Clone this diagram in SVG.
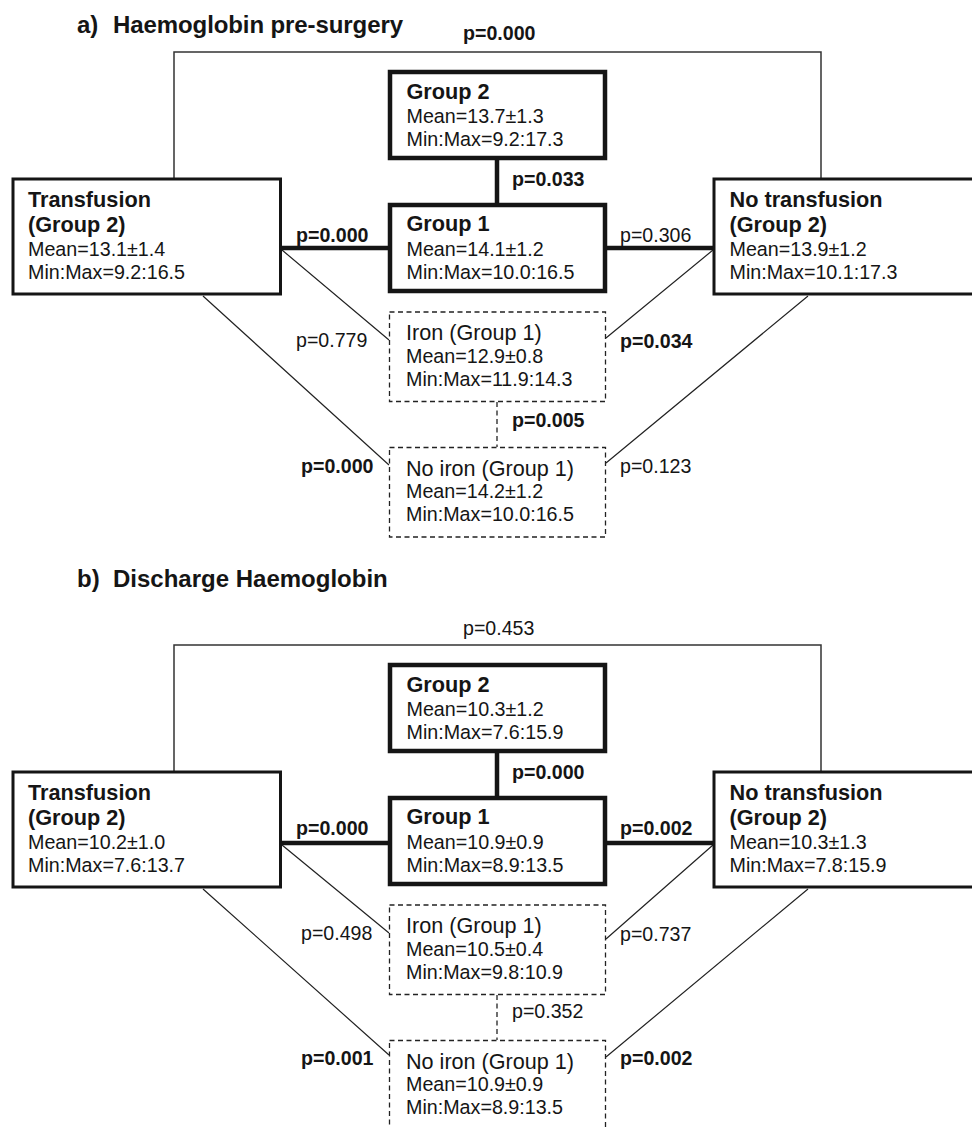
<svg xmlns="http://www.w3.org/2000/svg" width="972" height="1128" viewBox="0 0 972 1128">
<style>
text{font-family:"Liberation Sans",Arial,Helvetica,sans-serif;fill:#151515}
.ttl{font-size:24px;font-weight:bold}
.hd{font-size:21.7px;font-weight:bold}
.hr{font-size:21.6px}
.tx{font-size:19.7px}
.pb{font-size:19.6px;font-weight:bold}
.pr{font-size:19.6px}
.thick{fill:#fff;stroke:#151515;stroke-width:4.5}
.mid{fill:#fff;stroke:#151515;stroke-width:3}
.dash{fill:#fff;stroke:#222;stroke-width:1.3;stroke-dasharray:5 3.5}
.cthick{fill:none;stroke:#151515;stroke-width:4.5}
.cthin{fill:none;stroke:#222;stroke-width:1.2}
.cbr{fill:none;stroke:#333;stroke-width:1.5}
.cdash{fill:none;stroke:#222;stroke-width:1.3;stroke-dasharray:5 3.5}
</style>
<rect width="972" height="1128" fill="#fff"/>
<text class="ttl" x="77" y="33">a)</text>
<text class="ttl" x="113" y="33" textLength="290">Haemoglobin pre-surgery</text>
<text class="ttl" x="77" y="587">b)</text>
<text class="ttl" x="113" y="587">Discharge Haemoglobin</text>

<g id="panel-a">
<g id="a-connectors">
<path class="cbr" d="M174,179 V52 H821 V179"/>
<path class="cthick" d="M282,248 H390 M605,248 H713 M497,158 V205"/>
<path class="cthin" d="M282,250 L389,340 M203,296 L389,465 M713,250 L606,338 M808,296 L606,463"/>
<path class="cdash" d="M497,402 V447"/>
<text class="pb" x="463" y="40">p=0.000</text>
<text class="pb" x="512" y="186">p=0.033</text>
<text class="pb" x="296" y="242">p=0.000</text>
<text class="pr" x="620" y="242">p=0.306</text>
<text class="pr" x="296" y="347">p=0.779</text>
<text class="pb" x="620" y="348">p=0.034</text>
<text class="pb" x="512" y="427">p=0.005</text>
<text class="pb" x="301" y="473">p=0.000</text>
<text class="pr" x="620" y="473">p=0.123</text>
</g>
<g id="a-transfusion">
<rect class="mid" x="13" y="179" width="267.5" height="115"/>
<text class="hd" x="28" y="207">Transfusion</text>
<text class="hd" x="28" y="232">(Group 2)</text>
<text class="tx" x="28" y="255.5">Mean=13.1±1.4</text>
<text class="tx" x="28" y="278.5">Min:Max=9.2:16.5</text>
</g>
<g id="a-group2">
<rect class="thick" x="390" y="72" width="215" height="86"/>
<text class="hd" x="406.5" y="98.5">Group 2</text>
<text class="tx" x="406.5" y="122.5">Mean=13.7±1.3</text>
<text class="tx" x="406.5" y="145.5">Min:Max=9.2:17.3</text>
</g>
<g id="a-group1">
<rect class="thick" x="390" y="205" width="215" height="86"/>
<text class="hd" x="406.5" y="231">Group 1</text>
<text class="tx" x="406.5" y="255.5">Mean=14.1±1.2</text>
<text class="tx" x="406.5" y="278.5">Min:Max=10.0:16.5</text>
</g>
<g id="a-notransfusion">
<rect class="mid" x="714" y="179" width="270" height="115"/>
<text class="hd" x="729.5" y="207">No transfusion</text>
<text class="hd" x="729.5" y="232">(Group 2)</text>
<text class="tx" x="729.5" y="255.5">Mean=13.9±1.2</text>
<text class="tx" x="729.5" y="278.5">Min:Max=10.1:17.3</text>
</g>
<g id="a-iron">
<rect class="dash" x="389.5" y="312" width="216" height="89.5"/>
<text class="hr" x="406" y="340">Iron (Group 1)</text>
<text class="tx" x="406" y="363">Mean=12.9±0.8</text>
<text class="tx" x="406" y="385.5">Min:Max=11.9:14.3</text>
</g>
<g id="a-noiron">
<rect class="dash" x="389.5" y="447.5" width="216" height="89.5"/>
<text class="hr" x="406" y="475.5">No iron (Group 1)</text>
<text class="tx" x="406" y="498">Mean=14.2±1.2</text>
<text class="tx" x="406" y="520.5">Min:Max=10.0:16.5</text>
</g>
</g>

<g id="panel-b" transform="translate(0,593)">
<g id="b-connectors">
<path class="cbr" d="M174,179 V52 H821 V179"/>
<path class="cthick" d="M282,250 H390 M605,250 H713 M497,158 V205"/>
<path class="cthin" d="M282,252 L389,340 M203,296 L389,462 M713,252 L606,346 M808,296 L606,464"/>
<path class="cdash" d="M497,402 V447"/>
<text class="pr" x="463" y="42">p=0.453</text>
<text class="pb" x="512" y="186">p=0.000</text>
<text class="pb" x="296" y="242">p=0.000</text>
<text class="pb" x="620" y="242">p=0.002</text>
<text class="pr" x="301" y="347">p=0.498</text>
<text class="pr" x="620" y="348">p=0.737</text>
<text class="pr" x="512" y="425">p=0.352</text>
<text class="pb" x="301" y="472">p=0.001</text>
<text class="pb" x="620" y="472">p=0.002</text>
</g>
<g id="b-transfusion">
<rect class="mid" x="13" y="179" width="267.5" height="115"/>
<text class="hd" x="28" y="207">Transfusion</text>
<text class="hd" x="28" y="232">(Group 2)</text>
<text class="tx" x="28" y="255.5">Mean=10.2±1.0</text>
<text class="tx" x="28" y="278.5">Min:Max=7.6:13.7</text>
</g>
<g id="b-group2">
<rect class="thick" x="390" y="72" width="215" height="86"/>
<text class="hd" x="406.5" y="98.5">Group 2</text>
<text class="tx" x="406.5" y="122.5">Mean=10.3±1.2</text>
<text class="tx" x="406.5" y="145.5">Min:Max=7.6:15.9</text>
</g>
<g id="b-group1">
<rect class="thick" x="390" y="205" width="215" height="86"/>
<text class="hd" x="406.5" y="231">Group 1</text>
<text class="tx" x="406.5" y="255.5">Mean=10.9±0.9</text>
<text class="tx" x="406.5" y="278.5">Min:Max=8.9:13.5</text>
</g>
<g id="b-notransfusion">
<rect class="mid" x="714" y="179" width="270" height="115"/>
<text class="hd" x="729.5" y="207">No transfusion</text>
<text class="hd" x="729.5" y="232">(Group 2)</text>
<text class="tx" x="729.5" y="255.5">Mean=10.3±1.3</text>
<text class="tx" x="729.5" y="278.5">Min:Max=7.8:15.9</text>
</g>
<g id="b-iron">
<rect class="dash" x="389.5" y="312" width="216" height="89.5"/>
<text class="hr" x="406" y="340">Iron (Group 1)</text>
<text class="tx" x="406" y="363">Mean=10.5±0.4</text>
<text class="tx" x="406" y="385.5">Min:Max=9.8:10.9</text>
</g>
<g id="b-noiron">
<rect class="dash" x="389.5" y="447.5" width="216" height="89.5"/>
<text class="hr" x="406" y="475.5">No iron (Group 1)</text>
<text class="tx" x="406" y="498">Mean=10.9±0.9</text>
<text class="tx" x="406" y="520.5">Min:Max=8.9:13.5</text>
</g>
</g>
</svg>
